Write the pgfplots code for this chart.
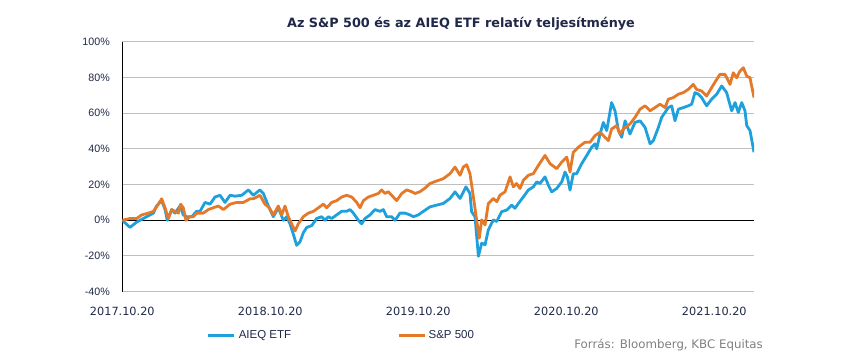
\documentclass[border=0pt]{standalone}
\usepackage{pgfplots}
\pgfplotsset{compat=1.18}
\usepackage{fontspec}
\setmainfont{DejaVu Sans}
\newfontfamily\lib{Liberation Sans}
\definecolor{aieq}{RGB}{30,160,220}
\definecolor{spx}{RGB}{228,121,41}
\definecolor{navy}{RGB}{31,40,72}
\definecolor{gridgray}{RGB}{191,191,191}
\definecolor{srcgray}{RGB}{128,128,128}

\pgfplotstableread{
t v
0 0
0.052 -4
0.097 -1
0.142 1
0.187 3
0.210 4
0.232 8
0.266 11
0.289 6
0.304 0
0.334 6
0.356 4
0.390 8
0.412 3
0.435 2
0.469 2
0.502 5
0.525 5
0.559 10
0.593 9
0.626 13
0.660 14
0.694 10
0.728 14
0.761 13.5
0.807 14
0.852 17
0.885 14
0.930 17
0.953 15
0.987 8
1.020 2
1.054 7
1.088 0
1.111 2
1.133 -2
1.156 -8
1.178 -14
1.201 -12
1.223 -7
1.246 -4
1.280 -3
1.313 1
1.347 2
1.370 0
1.392 2
1.415 1
1.448 3
1.482 5
1.516 5
1.539 6
1.561 4
1.595 0
1.617 -2
1.640 1
1.674 3
1.707 6
1.741 5
1.764 6
1.786 2
1.820 2
1.843 0
1.876 4
1.910 4
1.944 3
1.966 2
2.000 3
2.034 5
2.079 7.5
2.124 8.5
2.169 9.4
2.214 12.2
2.248 15.9
2.282 12.2
2.322 18.7
2.349 15.0
2.360 4.8
2.383 2.0
2.406 -20.2
2.428 -12.8
2.451 -13.7
2.473 -5.4
2.507 0.2
2.530 -0.7
2.563 4.8
2.597 5.7
2.631 8.5
2.653 6.7
2.676 9.4
2.710 13.1
2.743 16.9
2.777 18.7
2.800 21.5
2.822 20.6
2.856 24.3
2.879 19.6
2.901 15.9
2.935 17.8
2.969 21.5
2.991 27.0
3.007 24.3
3.025 16.9
3.047 26.1
3.070 26.1
3.104 31.7
3.138 36.3
3.171 40.9
3.194 42.8
3.205 40.0
3.228 48.3
3.250 54.8
3.273 50.2
3.306 65.9
3.329 61.3
3.352 50.2
3.374 46.5
3.397 55.7
3.430 48.3
3.464 54.8
3.498 55.7
3.532 52.0
3.566 42.8
3.588 44.6
3.622 52.0
3.644 57.6
3.667 60.4
3.689 63.1
3.712 64.1
3.734 55.7
3.757 62.2
3.791 63.1
3.824 64.1
3.847 65.0
3.869 71.5
3.892 70.6
3.914 68.7
3.948 64.1
3.982 67.8
4.016 70.6
4.050 75.2
4.083 71.5
4.117 61.3
4.140 65.9
4.162 60.4
4.185 65.9
4.207 61.3
4.219 53.0
4.241 50.2
4.268 38.1
}\aieqdata

\pgfplotstableread{
t v
0 0
0.052 1
0.097 1
0.131 3
0.176 4
0.210 5
0.243 9
0.266 12
0.289 7
0.311 1
0.334 6
0.356 5
0.379 4
0.394 9
0.412 7
0.430 0
0.457 2
0.480 2
0.502 4
0.547 4
0.581 6
0.615 7
0.649 8
0.683 6
0.728 9
0.773 10
0.818 10
0.863 12
0.885 12
0.930 14
0.964 9
0.993 7
1.020 3
1.054 8
1.077 3
1.099 8
1.122 2
1.144 -2
1.167 -6
1.189 -2
1.223 2
1.257 4
1.291 5
1.325 7
1.358 9
1.381 7
1.415 10
1.448 11
1.482 13
1.516 14
1.550 13
1.584 10
1.606 7
1.629 11
1.662 13
1.696 14
1.730 15
1.752 17
1.775 15
1.797 16
1.831 13
1.854 11
1.888 15
1.921 17
1.955 16
1.978 15
2.011 16
2.045 18
2.079 20.6
2.124 22.0
2.169 23.3
2.214 26.1
2.248 29.8
2.282 25.2
2.304 29.8
2.327 31.1
2.349 26.1
2.372 13.1
2.394 0.2
2.412 -10.0
2.428 0.2
2.451 -2.6
2.473 9.4
2.507 12.2
2.530 10.4
2.552 14.1
2.586 15.9
2.620 24.3
2.642 18.7
2.664 20.6
2.687 17.8
2.710 22.4
2.743 25.2
2.777 26.1
2.811 30.7
2.856 36.3
2.890 31.7
2.935 28.9
2.969 32.6
3.003 35.4
3.025 27.0
3.047 38.1
3.081 40.9
3.126 43.7
3.160 43.7
3.194 47.4
3.228 49.3
3.261 46.5
3.284 44.6
3.306 51.1
3.340 53.0
3.363 48.3
3.385 51.1
3.430 53.9
3.464 57.6
3.498 62.2
3.532 64.1
3.566 61.3
3.599 63.1
3.633 65.0
3.667 63.1
3.689 67.8
3.723 68.7
3.757 70.6
3.791 71.5
3.824 73.3
3.858 76.1
3.880 73.3
3.914 72.4
3.948 69.6
3.982 74.3
4.016 78.9
4.038 81.7
4.072 81.7
4.106 76.1
4.128 82.6
4.151 79.8
4.173 83.5
4.196 85.4
4.219 80.7
4.241 79.8
4.268 68.7
}\spxdata

\begin{document}
\begin{tikzpicture}
\path[use as bounding box] (0,0) rectangle (850bp,355bp);
\begin{axis}[
  at={(122.3bp,63.3bp)}, anchor=south west,
  scale only axis, width=631.7bp, height=250bp,
  xmin=0, xmax=4.268, ymin=-40, ymax=100,
  axis lines*=left,
  x axis line style={draw=none},
  y axis line style={-, black, line width=1bp},
  major tick length=0pt,
  xtick={0,1,2,3,4},
  xticklabels={2017.10.20,2018.10.20,2019.10.20,2020.10.20,2021.10.20},
  xticklabel style={font=\fontsize{11.3bp}{13bp}\selectfont, text=navy, inner sep=0pt, anchor=base, yshift=-23.3bp},
  ytick={-40,-20,0,20,40,60,80,100},
  yticklabels={-40\%,-20\%,0\%,20\%,40\%,60\%,80\%,100\%},
  yticklabel style={font=\lib\fontsize{10.7bp}{12bp}\selectfont, text=navy, inner sep=0pt, anchor=east, xshift=-12.3bp},
  ymajorgrids,
  major grid style={gridgray, line width=1bp},
  extra y ticks={0},
  extra y tick labels={},
  extra y tick style={major grid style={black, line width=1bp}},
  legend columns=2,
  legend style={draw=none, fill=none, at={(0.1341,-0.1744)}, anchor=west,
    inner sep=0pt, outer sep=0pt,
    nodes={inner sep=0pt, font=\lib\fontsize{11.5bp}{13bp}\selectfont, text=navy},
    /tikz/column sep=0pt},
  legend image code/.code={\draw[#1] (0bp,0bp) -- (26bp,0bp);},
]
\addplot[aieq, line width=2.8bp, line join=round] table[x=t, y=v] {\aieqdata};
\addlegendentry{\hspace{3bp}\makebox[159bp][l]{AIEQ ETF}}
\addplot[spx, line width=2.8bp, line join=round] table[x=t, y=v] {\spxdata};
\addlegendentry{\hspace{2bp}S\&P 500}
\end{axis}
\node[anchor=base, font=\bfseries\fontsize{12.8bp}{15bp}\selectfont, text=navy] at (461bp,327.3bp) {Az S\&P 500 és az AIEQ ETF relatív teljesítménye};
\node[anchor=base east, font=\fontsize{11.8bp}{14bp}\selectfont, text=srcgray, inner sep=0pt] at (763bp,6.5bp) {Forrás: Bloomberg, KBC Equitas};
\end{tikzpicture}
\end{document}
